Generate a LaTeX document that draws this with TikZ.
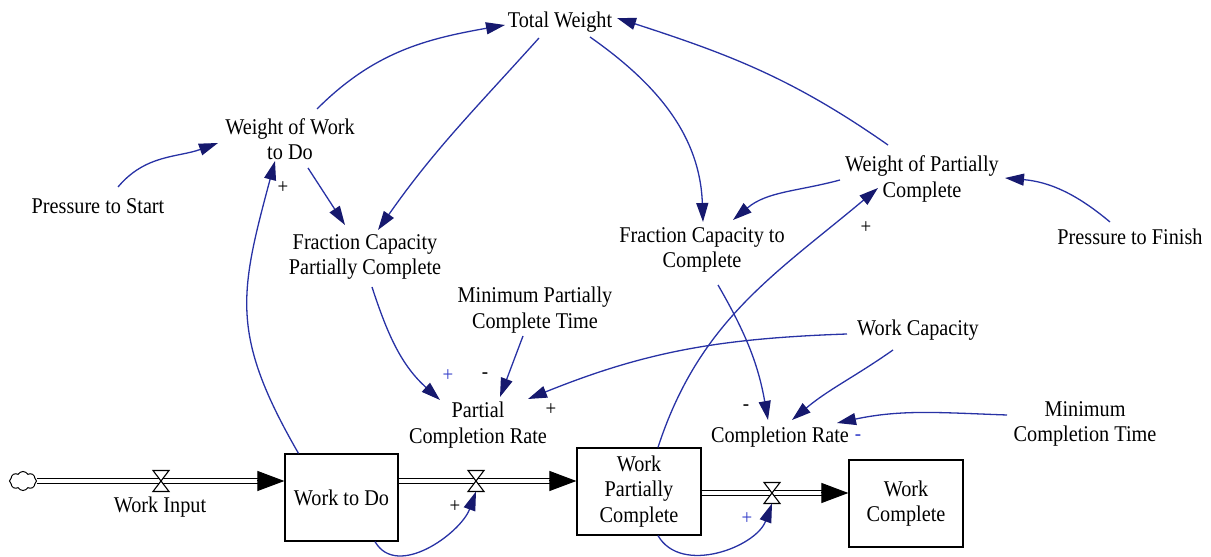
\documentclass[tikz,border=0pt]{standalone}
\usepackage{fontspec}
\setmainfont[FakeStretch=0.9]{Liberation Serif}
\usetikzlibrary{arrows.meta,shapes.symbols,calc}
\definecolor{linkc}{RGB}{40,50,165}
\definecolor{headc}{RGB}{22,25,110}
\definecolor{signc}{RGB}{50,60,200}
\begin{document}
\begin{tikzpicture}[x=1pt,y=1pt,
  aux/.style={font=\fontsize{22.5}{25.5}\selectfont, align=center, inner sep=3pt},
  stock/.style={draw, fill=white, line width=1.2pt, minimum height=87pt, inner sep=2pt,
    font=\fontsize{22.5}{25.5}\selectfont, align=center},
  link/.style={draw=linkc, line width=1.3pt, -{Triangle[length=19pt,width=12pt,color=headc]}},
  pipe/.style={draw=black, line width=1.3pt, double=white, double distance=3.6pt},
  pipehead/.style={draw=black, line width=1pt, -{Triangle[length=27pt,width=20pt]}},
  valvebox/.style={minimum width=16pt, minimum height=21pt, inner sep=0pt, outer sep=0pt},
  valvedraw/.style={draw=black, fill=white, line width=1.1pt},
  sign/.style={font=\fontsize{21}{21}\selectfont, inner sep=0pt},
  bluesign/.style={sign, text=signc}]
\useasboundingbox (0,0) rectangle (1211,557);

% auxiliaries
\node[aux] (tw)   at (560,535) {Total Weight};
\node[aux] (wwd)  at (290,418) {Weight of Work\\to Do};
\node[aux] (pts)  at (98,351)  {Pressure to Start};
\node[aux] (fcpc) at (365,300) {Fraction Capacity\\Partially Complete};
\node[aux] (mpct) at (535,247) {Minimum Partially\\Complete Time};
\node[aux] (pcr)  at (478,132) {Partial\\Completion Rate};
\node[aux] (wc)   at (918,227) {Work Capacity};
\node[aux] (fcc)  at (702,307) {Fraction Capacity to\\Complete};
\node[aux] (wpca) at (922,378) {Weight of Partially\\Complete};
\node[aux] (ptf)  at (1130,320) {Pressure to Finish};
\node[aux] (mct)  at (1085,133) {Minimum\\Completion Time};
\node[aux] (cr)   at (780,120) {Completion Rate};

% stocks
\node[stock, minimum width=113pt] (wtd) at (341.5,59.5) {Work to Do};
\node[stock, minimum width=124pt] (wpc) at (639,65.5) {Work\\Partially\\Complete};
\node[stock, minimum width=114pt] (wco) at (906,53.5) {Work\\Complete};

% source cloud
\node[cloud, draw, line width=1pt, cloud puffs=8, cloud puff arc=120, aspect=1.5,
      minimum width=27pt, minimum height=19pt, inner sep=0pt] (cloud) at (23,76) {};

% valves positions
\node[valvebox] (v1) at (161,76) {};
\node[valvebox] (v2) at (476,76) {};
\node[valvebox] (v3) at (772,64) {};

% pipes
\draw[pipe] (cloud.east) -- ($(cloud.east -| wtd.west)+(-25,0)$);
\draw[pipehead] ($(cloud.east -| wtd.west)+(-27,0)$) -- (cloud.east -| wtd.west);
\draw[pipe] (v2 -| wtd.east) -- ($(v2 -| wpc.west)+(-25,0)$);
\draw[pipehead] ($(v2 -| wpc.west)+(-27,0)$) -- (v2 -| wpc.west);
\draw[pipe] (v3 -| wpc.east) -- ($(v3 -| wco.west)+(-25,0)$);
\draw[pipehead] ($(v3 -| wco.west)+(-27,0)$) -- (v3 -| wco.west);

% valves drawn
\foreach \v in {v1,v2,v3}
  \draw[valvedraw] (\v.north west) -- (\v.north east) -- (\v.south west) -- (\v.south east) -- cycle;

\node[aux] (wi) at (160,50) {Work Input};

% causal links
\draw[link] ([shift={(20,19)}]pts.center) to[out=50,in=200] ([shift={(-72,-4)}]wwd.center);
\draw[link] ([shift={(27,30)}]wwd.center) to[out=45,in=190] ([shift={(-55,-3)}]tw.center);
\draw[link] ([shift={(-21,-16)}]tw.center) to[out=228,in=55] ([shift={(13,27)}]fcpc.center);
\draw[link] ([shift={(18,-29)}]wwd.center) -- ([shift={(-20,32)}]fcpc.center);
\draw[link] ([xshift=-43pt]wtd.north) to[out=120,in=255,looseness=1.2] ([shift={(-15,-22)}]wwd.center);
\draw[link] ([shift={(7,-30)}]fcpc.center) to[out=-72,in=138] ([shift={(-38,25)}]pcr.center);
\draw[link] ([shift={(-12,-26)}]mpct.center) -- ([shift={(22,28)}]pcr.center);
\draw[link] ([shift={(-71,-4)}]wc.center) to[out=182,in=22] ([shift={(50,26)}]pcr.center);
\draw[link] ([shift={(-25,-20)}]wc.center) to[out=215,in=40] ([shift={(12,17)}]cr.center);
\draw[link] ([shift={(16,-35)}]fcc.center) to[out=-60,in=100] ([shift={(-12,17)}]cr.center);
\draw[link] ([shift={(-78,9)}]mct.center) to[out=178,in=12] ([shift={(57,14)}]cr.center);
\draw[link] ([shift={(30,-15)}]tw.center) to[out=-35,in=92] ([shift={(1,28)}]fcc.center);
\draw[link] ([shift={(-82,-1)}]wpca.center) to[out=195,in=40] ([shift={(31,30)}]fcc.center);
\draw[link] ([shift={(-34,34)}]wpca.center) to[out=145,in=-18] ([shift={(57,4)}]tw.center);
\draw[link] ([shift={(-20,15)}]ptf.center) to[out=140,in=-5] ([shift={(83,1)}]wpca.center);
\draw[link] ([xshift=19pt]wpc.north) to[out=72,in=220] ([shift={(-44,-9)}]wpca.center);
\draw[link] ([xshift=33.5pt]wtd.south) to[out=-60,in=250] (v2.south);
\draw[link] ([xshift=19pt]wpc.south) to[out=-60,in=250] (v3.south);

% polarity signs
\node[sign]     (s1) at (283,369) {+};
\node[bluesign] (s2) at (448,181) {+};
\node[sign]     (s3) at (485,181) {-};
\node[sign]     (s4) at (551,147) {+};
\node[sign]     (s5) at (746,149) {-};
\node[bluesign] (s6) at (858,119) {-};
\node[sign]     (s7) at (866,329) {+};
\node[sign]     (s8) at (455,50)  {+};
\node[bluesign] (s9) at (747,38)  {+};
\end{tikzpicture}
\end{document}
